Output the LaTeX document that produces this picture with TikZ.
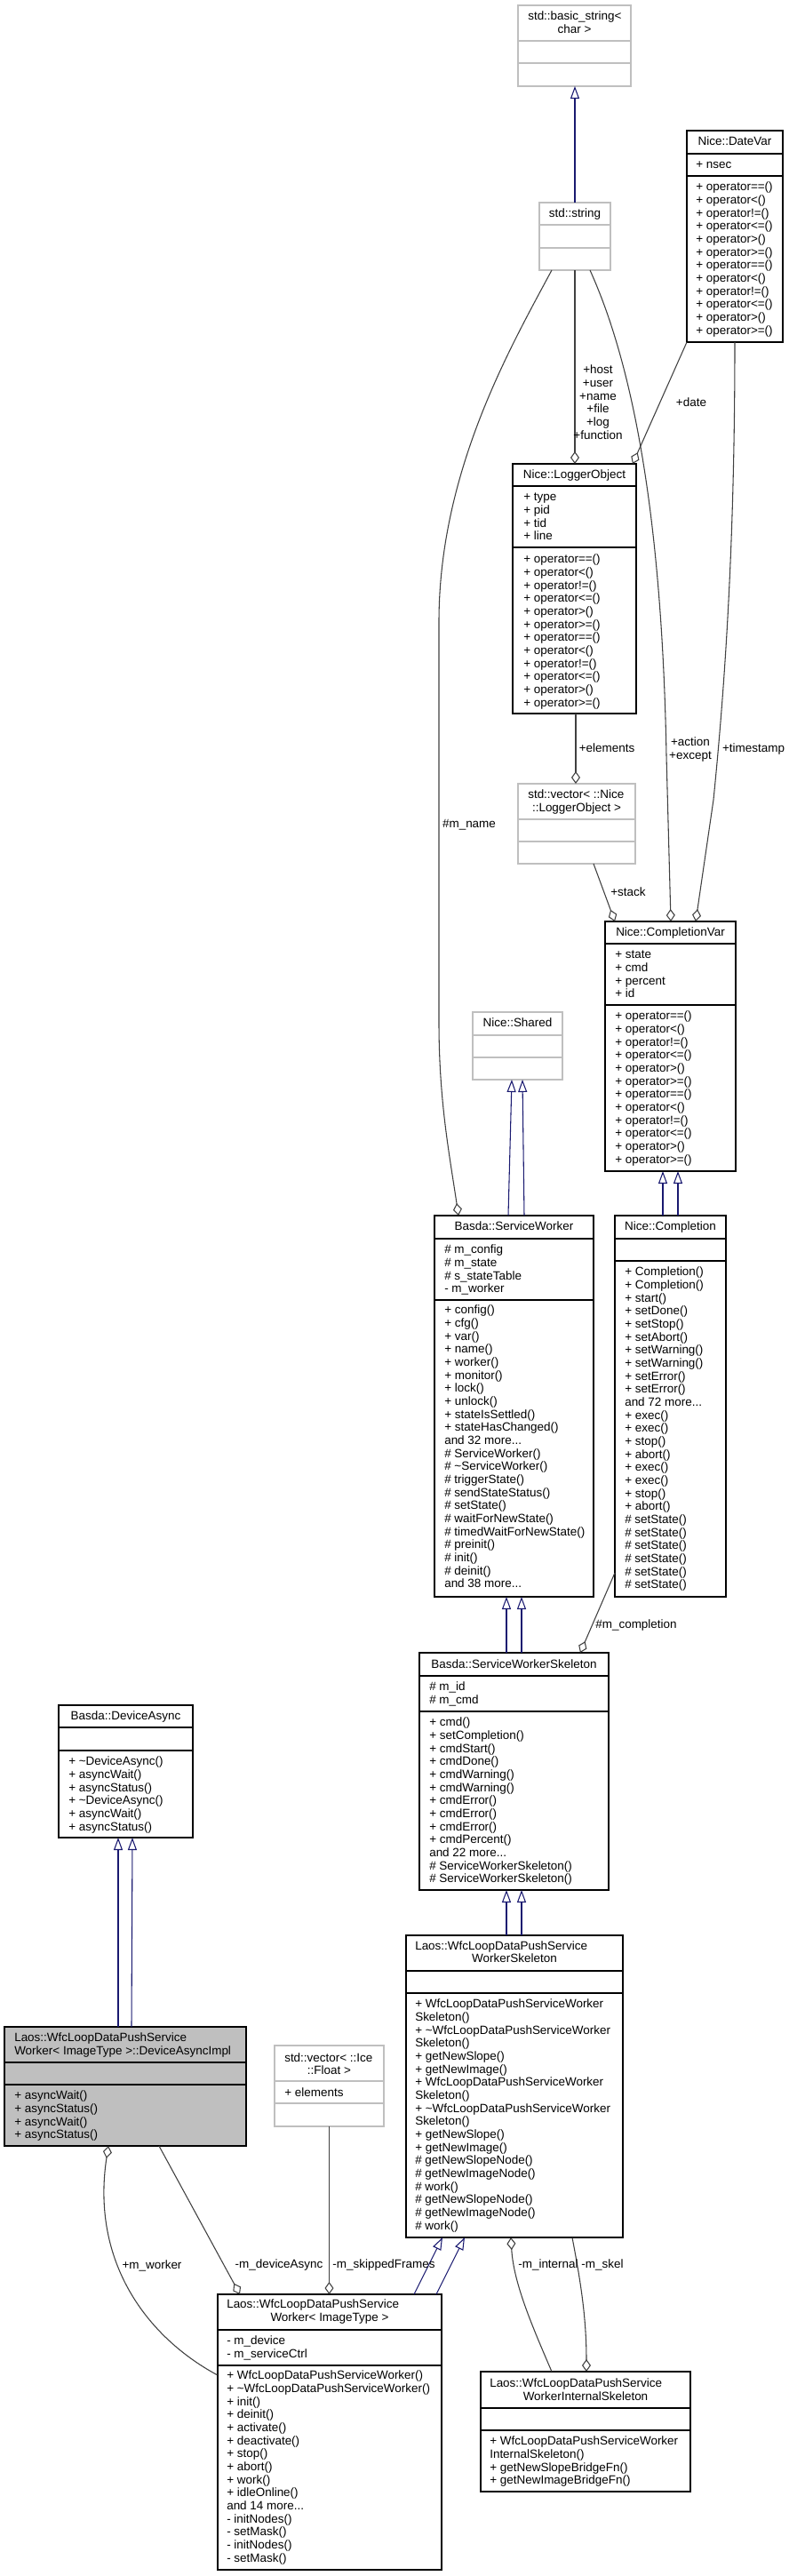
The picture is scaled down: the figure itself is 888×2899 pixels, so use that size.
\documentclass[tikz,border=0pt]{standalone}
\usepackage{fontspec}
\setmainfont{Liberation Sans}
\usetikzlibrary{arrows.meta,calc,fit}
\definecolor{inhcol}{HTML}{191970}
\definecolor{compcol}{HTML}{404040}
\definecolor{undoccol}{HTML}{BFBFBF}
\definecolor{curcol}{HTML}{BFBFBF}
\newcommand{\opsix}{+ operator==()\\+ operator<()\\+ operator!=()\\+ operator<=()\\+ operator>()\\+ operator>=()}
\newcommand{\divline}[3]{\draw[line width=1.1pt,draw=#3] (#1.west |- 0,#2) -- (#1.east |- 0,#2);}
\newcommand{\dfont}{\fontsize{10.1}{11}\selectfont}
\newcommand{\mystrut}{\rule{0pt}{9pt}}
\tikzset{
 umlbox/.style={draw=black,line width=1.1pt,inner sep=0pt,outer sep=0pt,fill=white},
 undoc/.style={draw=undoccol},
 txtc/.style={anchor=north,inner sep=0pt,align=center,font=\dfont},
 txtl/.style={anchor=north west,inner sep=0pt,align=left,font=\dfont},
 inhline/.style={draw=inhcol,line width=0.8pt,-{Triangle[open,length=10.5pt,width=7.5pt]}},
 compline/.style={draw=compcol,line width=0.8pt,-{Diamond[open,length=10.5pt,width=7.5pt]}},
}
\begin{document}
\begin{tikzpicture}[x=0.75pt,y=-0.75pt]
\useasboundingbox (0,0) rectangle (888,2899);
\fill[white] (0,0) rectangle (888,2899);

% std::basic_string<char>
\node[umlbox,undoc,fit={(583,6)(710,97)}] (bs) {};
\divline{bs}{46}{undoccol} \divline{bs}{71}{undoccol}
\node[txtl] (bst1) at (594,10) {\mystrut std::basic\_string<};
\node[txtc] (bst2) at (646.5,25) {\mystrut char >};

% std::string
\node[umlbox,undoc,fit={(607,228)(687,304)}] (str) {};
\divline{str}{253}{undoccol} \divline{str}{279}{undoccol}
\node[txtc] (strt) at (647,232.5) {\mystrut std::string};

% Nice::DateVar
\node[umlbox,fit={(773,147)(881,385)}] (dv) {};
\divline{dv}{173}{black} \divline{dv}{198}{black}
\node[txtc] (dvt) at (827,151.5) {\mystrut Nice::DateVar};
\node[txtl] (dva) at (783,177.5) {\mystrut + nsec};
\node[txtl] (dvm) at (783,202.5) {\mystrut\opsix\\\opsix};

% Nice::LoggerObject
\node[umlbox,fit={(577,522)(716,803)}] (lo) {};
\divline{lo}{547}{black} \divline{lo}{616}{black}
\node[txtc] (lot) at (646.5,526.5) {\mystrut Nice::LoggerObject};
\node[txtl] (loa) at (589,551.5) {\mystrut + type\\+ pid\\+ tid\\+ line};
\node[txtl] (lom) at (589,621.5) {\mystrut\opsix\\\opsix};

% std::vector< ::Nice::LoggerObject >
\node[umlbox,undoc,fit={(583,882)(715,972)}] (vl) {};
\divline{vl}{922}{undoccol} \divline{vl}{947}{undoccol}
\node[txtl] (vlt1) at (594,886.5) {\mystrut std::vector< ::Nice};
\node[txtc] (vlt2) at (649,901.5) {\mystrut ::LoggerObject >};

% Nice::CompletionVar
\node[umlbox,fit={(681,1037)(828,1318)}] (cv) {};
\divline{cv}{1062}{black} \divline{cv}{1131}{black}
\node[txtc] (cvt) at (754.5,1041.5) {\mystrut Nice::CompletionVar};
\node[txtl] (cva) at (692,1066.5) {\mystrut + state\\+ cmd\\+ percent\\+ id};
\node[txtl] (cvm) at (692,1135.5) {\mystrut\opsix\\\opsix};

% Nice::Shared
\node[umlbox,undoc,fit={(532,1139)(633,1215)}] (sh) {};
\divline{sh}{1165}{undoccol} \divline{sh}{1190}{undoccol}
\node[txtc] (sht) at (582.5,1143.5) {\mystrut Nice::Shared};

% Basda::ServiceWorker
\node[umlbox,fit={(489,1368)(668,1797)}] (sw) {};
\divline{sw}{1394}{black} \divline{sw}{1463}{black}
\node[txtc] (swt) at (578.5,1372.5) {\mystrut Basda::ServiceWorker};
\node[txtl] (swa) at (500,1398.5) {\mystrut\# m\_config\\\# m\_state\\\# s\_stateTable\\- m\_worker};
\node[txtl] (swm) at (500,1466.5) {\mystrut + config()\\+ cfg()\\+ var()\\+ name()\\+ worker()\\+ monitor()\\+ lock()\\+ unlock()\\+ stateIsSettled()\\+ stateHasChanged()\\and 32 more...\\\# ServiceWorker()\\\# \textasciitilde ServiceWorker()\\\# triggerState()\\\# sendStateStatus()\\\# setState()\\\# waitForNewState()\\\# timedWaitForNewState()\\\# preinit()\\\# init()\\\# deinit()\\and 38 more...};

% Nice::Completion
\node[umlbox,fit={(692,1368)(817,1797)}] (co) {};
\divline{co}{1394}{black} \divline{co}{1419}{black}
\node[txtc] (cot) at (754.5,1372.5) {\mystrut Nice::Completion};
\node[txtl] (com) at (703,1423.5) {\mystrut + Completion()\\+ Completion()\\+ start()\\+ setDone()\\+ setStop()\\+ setAbort()\\+ setWarning()\\+ setWarning()\\+ setError()\\+ setError()\\and 72 more...\\+ exec()\\+ exec()\\+ stop()\\+ abort()\\+ exec()\\+ exec()\\+ stop()\\+ abort()\\\# setState()\\\# setState()\\\# setState()\\\# setState()\\\# setState()\\\# setState()};

% Basda::ServiceWorkerSkeleton
\node[umlbox,fit={(472,1860)(685,2127)}] (sk) {};
\divline{sk}{1886}{black} \divline{sk}{1926}{black}
\node[txtc] (skt) at (578.5,1865.5) {\mystrut Basda::ServiceWorkerSkeleton};
\node[txtl] (ska) at (483,1890.5) {\mystrut\# m\_id\\\# m\_cmd};
\node[txtl] (skm) at (483,1930.5) {\mystrut + cmd()\\+ setCompletion()\\+ cmdStart()\\+ cmdDone()\\+ cmdWarning()\\+ cmdWarning()\\+ cmdError()\\+ cmdError()\\+ cmdError()\\+ cmdPercent()\\and 22 more...\\\# ServiceWorkerSkeleton()\\\# ServiceWorkerSkeleton()};

% Basda::DeviceAsync
\node[umlbox,fit={(66,1919)(217,2068)}] (da) {};
\divline{da}{1944}{black} \divline{da}{1970}{black}
\node[txtc] (dat) at (141.5,1923.5) {\mystrut Basda::DeviceAsync};
\node[txtl] (dam) at (77,1974.5) {\mystrut + \textasciitilde DeviceAsync()\\+ asyncWait()\\+ asyncStatus()\\+ \textasciitilde DeviceAsync()\\+ asyncWait()\\+ asyncStatus()};

% DeviceAsyncImpl
\node[umlbox,fill=curcol,fit={(5,2281)(277,2415)}] (dai) {};
\divline{dai}{2321}{black} \divline{dai}{2346}{black}
\node[txtl] (dait) at (16,2285.5) {\mystrut Laos::WfcLoopDataPushService\\Worker< ImageType >::DeviceAsyncImpl};
\node[txtl] (daim) at (16,2350.5) {\mystrut + asyncWait()\\+ asyncStatus()\\+ asyncWait()\\+ asyncStatus()};

% std::vector< ::Ice::Float >
\node[umlbox,undoc,fit={(309,2302)(432,2393)}] (vf) {};
\divline{vf}{2342}{undoccol} \divline{vf}{2367}{undoccol}
\node[txtl] (vft1) at (320,2308.5) {\mystrut std::vector< ::Ice};
\node[txtc] (vft2) at (370.5,2322.5) {\mystrut ::Float >};
\node[txtl] (vfa) at (320,2347.5) {\mystrut + elements};

% Laos::WfcLoopDataPushServiceWorkerSkeleton
\node[umlbox,fit={(457,2178)(701,2518)}] (wsk) {};
\divline{wsk}{2218}{black} \divline{wsk}{2243}{black}
\node[txtl] (wskt1) at (467,2182.5) {\mystrut Laos::WfcLoopDataPushService};
\node[txtc] (wskt2) at (579,2196.5) {\mystrut WorkerSkeleton};
\node[txtl] (wskm) at (467,2247.5) {\mystrut + WfcLoopDataPushServiceWorker\\Skeleton()\\+ \textasciitilde WfcLoopDataPushServiceWorker\\Skeleton()\\+ getNewSlope()\\+ getNewImage()\\+ WfcLoopDataPushServiceWorker\\Skeleton()\\+ \textasciitilde WfcLoopDataPushServiceWorker\\Skeleton()\\+ getNewSlope()\\+ getNewImage()\\\# getNewSlopeNode()\\\# getNewImageNode()\\\# work()\\\# getNewSlopeNode()\\\# getNewImageNode()\\\# work()};

% Laos::WfcLoopDataPushServiceWorker< ImageType >
\node[umlbox,fit={(245,2582)(497,2892)}] (ww) {};
\divline{ww}{2622}{black} \divline{ww}{2662}{black}
\node[txtl] (wwt1) at (255,2585.5) {\mystrut Laos::WfcLoopDataPushService};
\node[txtc] (wwt2) at (371,2600.5) {\mystrut Worker< ImageType >};
\node[txtl] (wwa) at (255,2626.5) {\mystrut - m\_device\\- m\_serviceCtrl};
\node[txtl] (wwm) at (255,2665.5) {\mystrut + WfcLoopDataPushServiceWorker()\\+ \textasciitilde WfcLoopDataPushServiceWorker()\\+ init()\\+ deinit()\\+ activate()\\+ deactivate()\\+ stop()\\+ abort()\\+ work()\\+ idleOnline()\\and 14 more...\\- initNodes()\\- setMask()\\- initNodes()\\- setMask()};

% Laos::WfcLoopDataPushServiceWorkerInternalSkeleton
\node[umlbox,fit={(541,2669)(777,2804)}] (isk) {};
\divline{isk}{2710}{black} \divline{isk}{2735}{black}
\node[txtl] (iskt1) at (551,2674.5) {\mystrut Laos::WfcLoopDataPushService};
\node[txtc] (iskt2) at (659,2689.5) {\mystrut WorkerInternalSkeleton};
\node[txtl] (iskm) at (551,2739.5) {\mystrut + WfcLoopDataPushServiceWorker\\InternalSkeleton()\\+ getNewSlopeBridgeFn()\\+ getNewImageBridgeFn()};

% inheritance connectors
\draw[inhline] (str.north) -- (str.north |- bs.south);
\draw[inhline] ($(sw.north west)+(83,0)$) -- ($(sh.south west)+(44,0)$);
\draw[inhline] ($(sw.north west)+(101,0)$) -- ($(sh.south west)+(56,0)$);
\draw[inhline] ($(co.north west)+(54,0)$) -- ($(cv.south west)+(65,0)$);
\draw[inhline] ($(co.north west)+(71,0)$) -- ($(cv.south west)+(82,0)$);
\draw[inhline] ($(sk.north west)+(98,0)$) -- ($(sw.south west)+(81,0)$);
\draw[inhline] ($(sk.north west)+(115,0)$) -- ($(sw.south west)+(98,0)$);
\draw[inhline] ($(wsk.north west)+(113,0)$) -- ($(sk.south west)+(98,0)$);
\draw[inhline] ($(wsk.north west)+(130,0)$) -- ($(sk.south west)+(115,0)$);
\draw[inhline] ($(ww.north west)+(221,0)$) -- ($(wsk.south west)+(41,0)$);
\draw[inhline] ($(ww.north west)+(246,0)$) -- ($(wsk.south west)+(66,0)$);
\draw[inhline] ($(dai.north west)+(128,0)$) -- ($(da.south west)+(67,0)$);
\draw[inhline] ($(dai.north west)+(143,0)$) -- ($(da.south west)+(83,0)$);

% composition connectors
\draw[compline] (str.south) -- (str.south |- lo.north);
\draw[compline] ($(str.south west)+(14,0)$) .. controls (575,390) and (494,530) .. (494,700) -- (494,1150) .. controls (494,1240) and (506,1300) .. ($(sw.north west)+(27,0)$);
\draw[compline] ($(str.south west)+(57,0)$) .. controls (712,410) and (745,580) .. (750,850) -- ($(cv.north west)+(74,0)$);
\draw[compline] (dv.south west) -- ($(lo.north west)+(135,0)$);
\draw[compline] ($(dv.south west)+(54,0)$) .. controls (827,620) and (815,780) .. (803,900) -- ($(cv.north west)+(102,0)$);
\draw[compline] ($(lo.south west)+(71,0)$) -- ($(vl.north west)+(65,0)$);
\draw[compline] ($(vl.south west)+(85,0)$) -- ($(cv.north west)+(11,0)$);
\draw[compline] ($(co.north west)+(0,402)$) -- ($(sk.north west)+(181,0)$);
\draw[compline] ($(dai.south west)+(174,0)$) -- ($(ww.north west)+(25,0)$);
\draw[compline] ($(ww.north west)+(0,91)$) .. controls (165,2630) and (102,2545) .. ($(dai.south west)+(117,0)$);
\draw[compline] (vf.south) -- (vf.south |- ww.north);
\draw[compline] ($(isk.north west)+(80,0)$) .. controls (600,2620) and (578,2570) .. ($(wsk.south west)+(118,0)$);
\draw[compline] ($(wsk.south west)+(187,0)$) .. controls (654,2570) and (660,2610) .. ($(isk.north west)+(119,0)$);

% connector labels
\node[txtc] (lhost) at (673,408.5) {\mystrut +host\\+user\\+name\\+file\\+log\\+function};
\node[txtc] (ldate) at (778,445.5) {\mystrut +date};
\node[txtc] (lact) at (777,827.5) {\mystrut +action\\+except};
\node[txtc] (lts) at (848,834.5) {\mystrut +timestamp};
\node[txtc] (lel) at (683,834.5) {\mystrut +elements};
\node[txtc] (lmn) at (528,919.5) {\mystrut\#m\_name};
\node[txtc] (lst) at (707,996.5) {\mystrut +stack};
\node[txtc] (lmc) at (716,1820.5) {\mystrut\#m\_completion};
\node[txtc] (lmw) at (171,2541.5) {\mystrut +m\_worker};
\node[txtc] (lmd) at (314,2540.5) {\mystrut -m\_deviceAsync};
\node[txtc] (lsf) at (432,2540.5) {\mystrut -m\_skippedFrames};
\node[txtc] (lmi) at (617,2540.5) {\mystrut -m\_internal};
\node[txtc] (lms) at (678,2540.5) {\mystrut -m\_skel};
\end{tikzpicture}
\end{document}
